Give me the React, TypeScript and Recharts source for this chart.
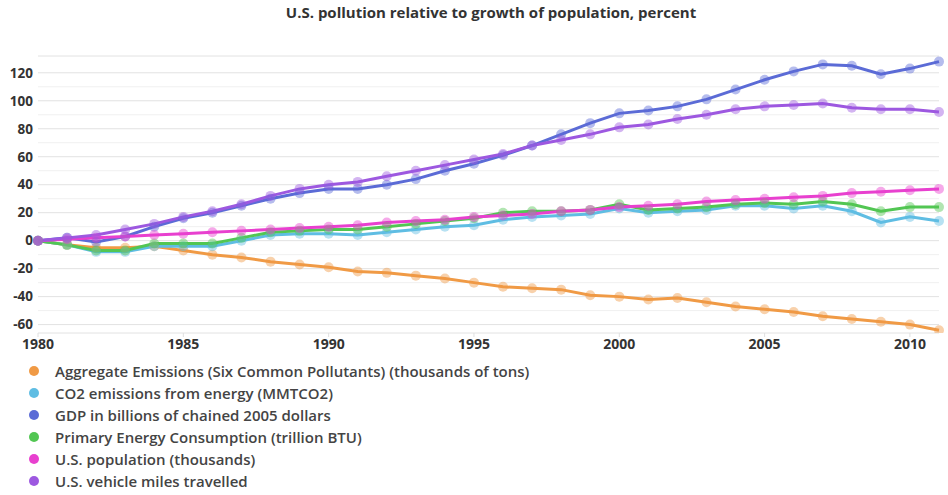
import React from 'react';
import {
  LineChart,
  Line,
  XAxis,
  YAxis,
  CartesianGrid,
  ReferenceLine,
  Legend
} from 'recharts';

const years = [
  1980, 1981, 1982, 1983, 1984, 1985, 1986, 1987, 1988, 1989, 1990,
  1991, 1992, 1993, 1994, 1995, 1996, 1997, 1998, 1999, 2000,
  2001, 2002, 2003, 2004, 2005, 2006, 2007, 2008, 2009, 2010, 2011
];

// percent change against 1980
const emissions = [
  0, -3, -5, -5, -4, -7, -10, -12, -15, -17, -19,
  -22, -23, -25, -27, -30, -33, -34, -35, -39, -40,
  -42, -41, -44, -47, -49, -51, -54, -56, -58, -60, -64
];
const co2 = [
  0, -3, -8, -8, -4, -4, -4, 0, 4, 5, 5,
  4, 6, 8, 10, 11, 15, 17, 18, 19, 23,
  20, 21, 22, 25, 25, 23, 25, 21, 13, 17, 14
];
const gdp = [
  0, 2, -1, 3, 10, 16, 20, 25, 30, 34, 37,
  37, 40, 44, 50, 55, 61, 68, 76, 84, 91,
  93, 96, 101, 108, 115, 121, 126, 125, 119, 123, 128
];
const energy = [
  0, -3, -7, -7, -2, -2, -2, 2, 6, 7, 8,
  8, 10, 12, 14, 16, 20, 21, 21, 22, 26,
  22, 23, 24, 26, 27, 26, 28, 26, 21, 24, 24
];
const population = [
  0, 1, 2, 3, 4, 5, 6, 7, 8, 9, 10,
  11, 13, 14, 15, 17, 18, 19, 21, 22, 24,
  25, 26, 28, 29, 30, 31, 32, 34, 35, 36, 37
];
const vehicleMiles = [
  0, 2, 4, 8, 12, 17, 21, 26, 32, 37, 40,
  42, 46, 50, 54, 58, 62, 68, 72, 76, 81,
  83, 87, 90, 94, 96, 97, 98, 95, 94, 94, 92
];

const xTicks = [1980, 1985, 1990, 1995, 2000, 2005, 2010];
const yTicks = [-60, -40, -20, 0, 20, 40, 60, 80, 100, 120];
const minorLines = [-50, -30, -10, 10, 30, 50, 70, 90, 110];

const series = [
  { key: 'emissions', name: 'Aggregate Emissions (Six Common Pollutants) (thousands of tons)', color: '#f09a45', values: emissions },
  { key: 'co2', name: 'CO2 emissions from energy (MMTCO2)', color: '#5fbde3', values: co2 },
  { key: 'gdp', name: 'GDP in billions of chained 2005 dollars', color: '#5b6bd6', values: gdp },
  { key: 'energy', name: 'Primary Energy Consumption (trillion BTU)', color: '#52c653', values: energy },
  { key: 'population', name: 'U.S. population (thousands)', color: '#e840cf', values: population },
  { key: 'vehicleMiles', name: 'U.S. vehicle miles travelled', color: '#9d58e0', values: vehicleMiles }
];

const data = years.map((year, i) => {
  const row: Record<string, number> = { year };
  series.forEach(s => { row[s.key] = s.values[i]; });
  return row;
});

const FONT = '"Open Sans", sans-serif';

const LegendList = () => (
  <div style={{ height: 132, paddingLeft: 21, fontFamily: FONT }}>
    {series.map(s => (
      <div key={s.key} style={{ display: 'flex', alignItems: 'center', height: 22 }}>
        <span style={{
          display: 'inline-block', width: 10, height: 10, borderRadius: 5,
          background: s.color, marginRight: 16
        }} />
        <span style={{ fontSize: 15, fontWeight: 600, color: '#444' }}>{s.name}</span>
      </div>
    ))}
  </div>
);

export default function App() {
  return (
    <div style={{ position: 'absolute', left: 0, top: 0, width: 948, height: 495, background: '#fff' }}>
      <div style={{
        position: 'absolute', top: 2, left: 0, width: 982, textAlign: 'center',
        fontFamily: FONT, fontSize: 15, fontWeight: 700, color: '#333'
      }}>
        U.S. pollution relative to growth of population, percent
      </div>
      <LineChart
        width={948}
        height={495}
        data={data}
        margin={{ top: 56, right: 9, bottom: 3, left: 8 }}
      >
        <CartesianGrid vertical={false} stroke="#e2e2e2" />
        {minorLines.map(v => (
          <ReferenceLine key={v} y={v} stroke="#f0f0f0" ifOverflow="hidden" />
        ))}
        <XAxis
          dataKey="year"
          type="number"
          domain={[1980, 2011]}
          ticks={xTicks}
          height={27}
          axisLine={false}
          tickSize={4}
          tickLine={{ stroke: '#e0e0e0' }}
          tickMargin={2}
          tick={{ fontFamily: FONT, fontSize: 14, fontWeight: 700, fill: '#333' }}
        />
        <YAxis
          width={30}
          domain={[-66, 132]}
          ticks={yTicks}
          allowDataOverflow
          axisLine={false}
          tickLine={false}
          tickSize={0}
          tickMargin={5}
          tick={{ fontFamily: FONT, fontSize: 13.5, fontWeight: 700, fill: '#333' }}
        />
        <Legend
          verticalAlign="bottom"
          align="left"
          content={<LegendList />}
        />
        {series.map(s => (
          <Line
            key={s.key}
            dataKey={s.key}
            name={s.name}
            stroke={s.color}
            strokeWidth={3}
            dot={{ r: 5, fill: s.color, fillOpacity: 0.45, stroke: 'none' }}
            activeDot={false}
            isAnimationActive={false}
          />
        ))}
      </LineChart>
    </div>
  );
}
